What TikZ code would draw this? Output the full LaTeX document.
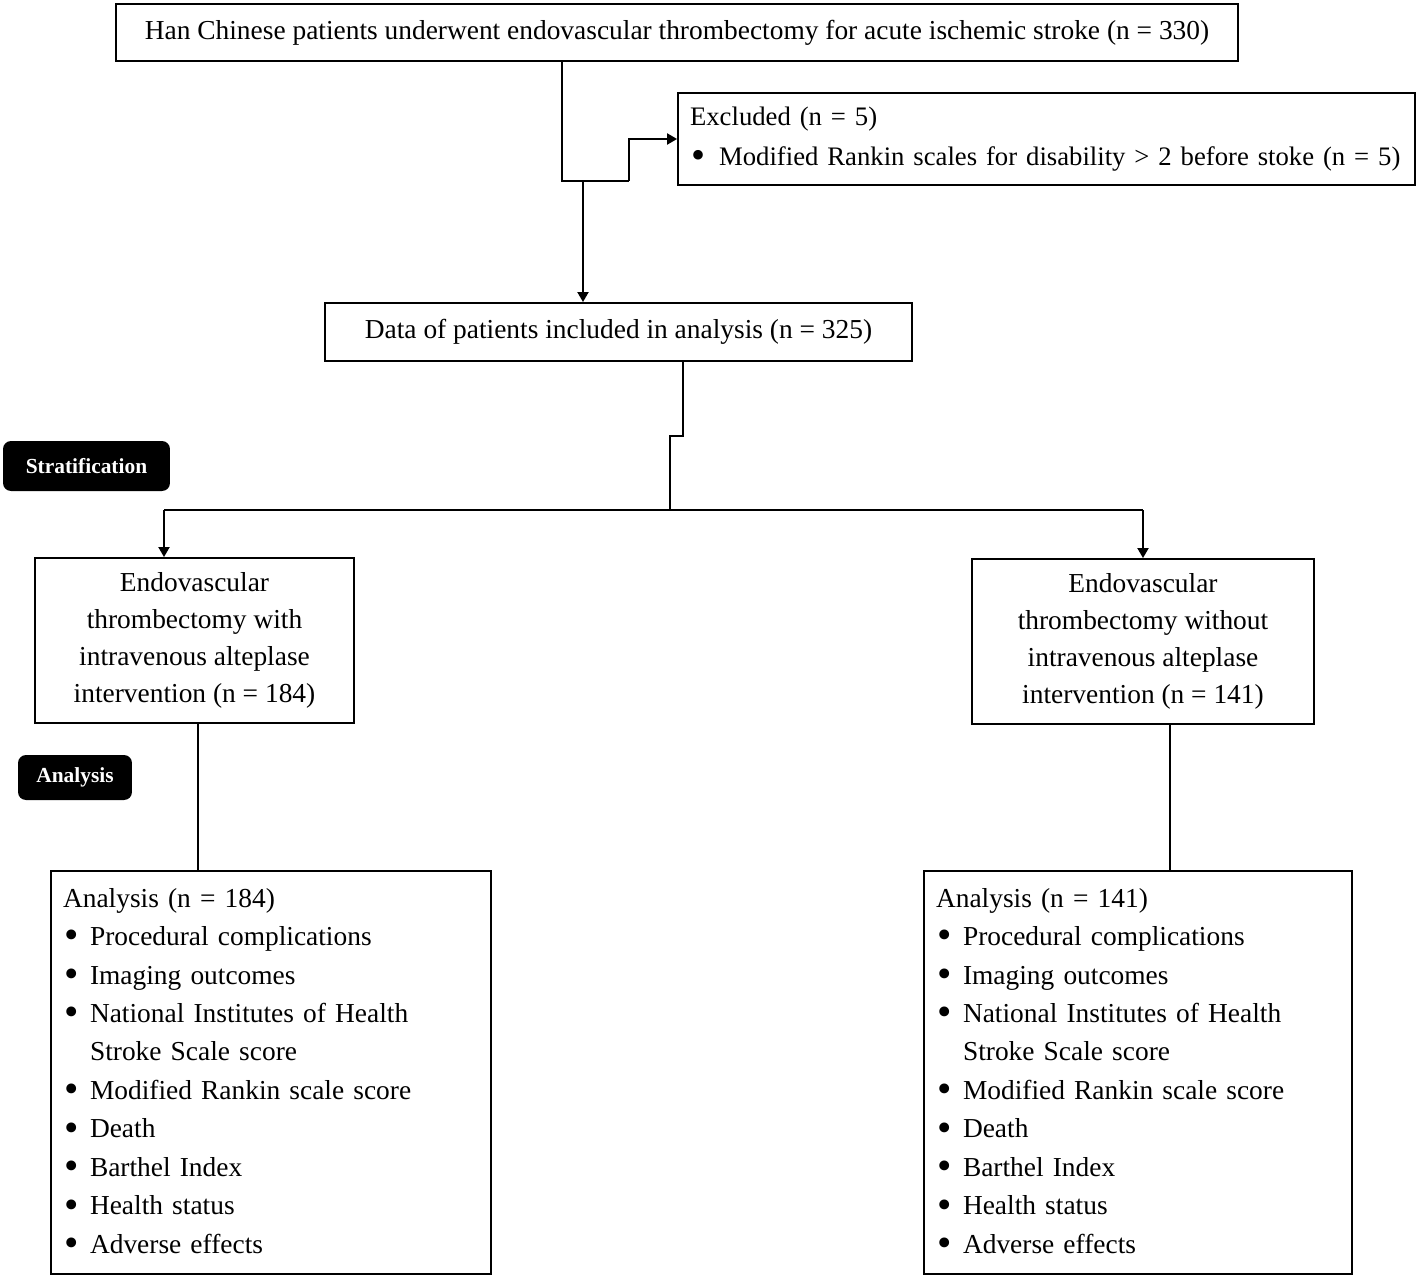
\documentclass[tikz,border=0pt]{standalone}
\usepackage{fontspec}
\setmainfont{Liberation Serif}
\usetikzlibrary{arrows.meta}

\newcommand{\bigdot}{\hspace{0.02cm}\raisebox{-0.12em}{\scalebox{1.5}{\textbullet}}}
\newcommand{\outcomelist}[1]{%
  \begin{tabular}{@{}p{0.54cm}@{}l@{}}
  \multicolumn{2}{@{}l@{}}{Analysis (n = #1)}\\
  \bigdot & Procedural complications\\
  \bigdot & Imaging outcomes\\
  \bigdot & National Institutes of Health\\
   & Stroke Scale score\\
  \bigdot & Modified Rankin scale score\\
  \bigdot & Death\\
  \bigdot & Barthel Index\\
  \bigdot & Health status\\
  \bigdot & Adverse effects
  \end{tabular}}

\begin{document}
\begin{tikzpicture}[x=0.02cm,y=-0.02cm,
  box/.style={draw,line width=1.1pt,inner sep=0pt,align=center,font=\fontsize{15.6}{21.9}\selectfont},
  listbox/.style={box,align=left,inner xsep=0.24cm},
  tag/.style={fill=black,rounded corners=0.16cm,text=white,inner sep=0pt,font=\fontsize{12.2}{14}\selectfont\bfseries},
  line/.style={line width=1.1pt},
  arr/.style={line width=1.1pt,-{Triangle[length=0.2cm,width=0.22cm]}}]
\useasboundingbox (0,0) rectangle (1418,1278);

\node[box,minimum width=22.44cm,minimum height=1.14cm] (top) at (677,32.5)
  {Han Chinese patients underwent endovascular thrombectomy for acute ischemic stroke (n = 330)};
\node[listbox,text width=14.26cm,minimum height=1.84cm,font=\fontsize{15.2}{22.4}\selectfont] (excl) at (1046.5,139)
  {Excluded (n = 5)\\\bigdot\hspace{0.28cm}Modified Rankin scales for disability > 2 before stoke (n = 5)};
\node[box,minimum width=11.74cm,minimum height=1.16cm] (data) at (618.5,332)
  {Data of patients included in analysis (n = 325)};

\node[tag,minimum width=3.34cm,minimum height=1cm] (strat) at (86.5,466) {Stratification};

\node[box,minimum width=6.38cm,minimum height=3.3cm,font=\fontsize{15.6}{21}\selectfont] (withiv) at (194.5,640.5)
  {Endovascular\\thrombectomy with\\intravenous alteplase\\intervention (n = 184)};
\node[box,minimum width=6.84cm,minimum height=3.3cm,font=\fontsize{15.6}{21}\selectfont] (withoutiv) at (1143,641.5)
  {Endovascular\\thrombectomy without\\intravenous alteplase\\intervention (n = 141)};

\node[tag,minimum width=2.28cm,minimum height=0.9cm] (anal) at (75,777.5) {Analysis};

\node[listbox,text width=8.32cm,minimum height=8.06cm] (withres) at (271,1072.5) {\outcomelist{184}};
\node[listbox,text width=8.08cm,minimum height=8.06cm] (withoutres) at (1138,1072.5) {\outcomelist{141}};

\coordinate (j1) at (562,181);
\coordinate (j2) at (629,181);
\coordinate (j3) at (583,181);
\draw[line] (top.south -| j1) -- (j1) -- (j2);
\draw[arr] (j2) |- (excl.west);
\draw[arr] (j3) -- (data.north -| j3);

\coordinate (s1) at (683,436);
\coordinate (s2) at (670,510);
\coordinate (s3) at (164,510);
\coordinate (s4) at (1143,510);
\draw[line] (data.south -| s1) -- (s1) -| (s2);
\draw[line] (s3) -- (s4);
\draw[arr] (s3) -- (s3 |- withiv.north);
\draw[arr] (s4) -- (withoutiv.north);

\coordinate (t1) at (198,0);
\coordinate (t2) at (1170,0);
\draw[line] (withiv.south -| t1) -- (withres.north -| t1);
\draw[line] (withoutiv.south -| t2) -- (withoutres.north -| t2);
\end{tikzpicture}
\end{document}
